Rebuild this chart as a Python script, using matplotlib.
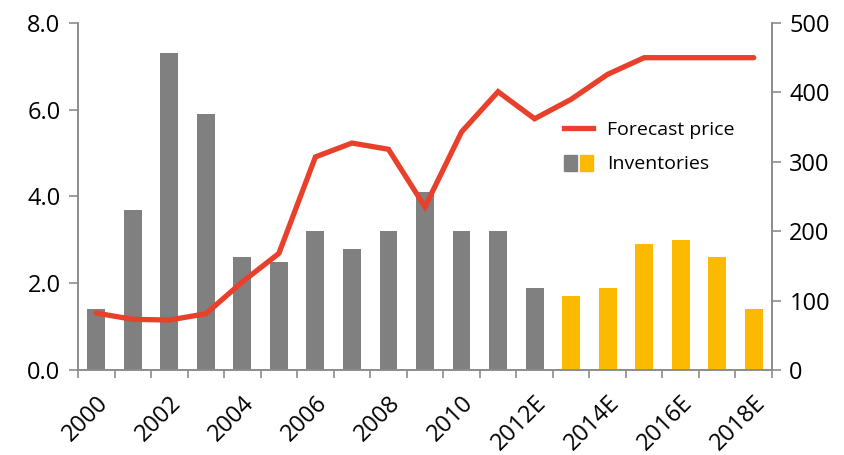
import matplotlib.pyplot as plt
from matplotlib.lines import Line2D
from matplotlib.patches import Patch
from matplotlib.legend_handler import HandlerTuple

plt.rcParams['font.family'] = ['Open Sans', 'DejaVu Sans']

years = ['2000', '2001', '2002', '2003', '2004', '2005', '2006', '2007', '2008', '2009',
         '2010', '2011', '2012E', '2013E', '2014E', '2015E', '2016E', '2017E', '2018E']
inventories = [1.4, 3.7, 7.3, 5.9, 2.6, 2.5, 3.2, 2.8, 3.2, 4.1,
               3.2, 3.2, 1.9, 1.7, 1.9, 2.9, 3.0, 2.6, 1.4]
forecast_price = [82, 73, 72, 81, 127, 168, 307, 327, 318, 235,
                  343, 401, 362, 390, 426, 450, 450, 450, 450]
n_actual = 13  # grey bars up to 2012

grey = '#808080'
orange = '#FBB900'
red = '#E8402A'
axis_col = '#8C8C8C'

fig = plt.figure(figsize=(8.44, 4.55), dpi=100)
ax = fig.add_axes([0.0924, 0.1868, 0.8223, 0.7627])
ax2 = ax.twinx()

x = list(range(len(years)))
colors = [grey if i < n_actual else orange for i in x]
ax.bar(x, inventories, width=0.49, color=colors, zorder=2)
ax2.plot(x, forecast_price, color=red, lw=3.8, solid_capstyle='round', solid_joinstyle='miter', zorder=3)

ax.set_xlim(-0.5, len(years) - 0.5)
ax.set_ylim(0, 8)
ax2.set_ylim(0, 500)
ax.set_yticks([0, 2, 4, 6, 8])
ax.set_yticklabels(['%.1f' % v for v in [0, 2, 4, 6, 8]])
ax2.set_yticks([0, 100, 200, 300, 400, 500])

# labelled ticks at every other bar, tick marks at category boundaries
ax.set_xticks(x[::2])
ax.set_xticklabels(years[::2], rotation=45, ha='right', rotation_mode='anchor')
ax.set_xticks([i - 0.5 for i in range(len(years) + 1)], minor=True)
ax.tick_params(axis='x', which='major', length=0, pad=15, labelsize=17)
ax.tick_params(axis='x', which='minor', length=6, width=1.2, color=axis_col)
ax.tick_params(axis='y', length=6.5, width=1.2, color=axis_col, labelsize=17, pad=6)
ax2.tick_params(axis='y', length=6.5, width=1.2, color=axis_col, labelsize=17, pad=6)

for a in (ax, ax2):
    a.spines['top'].set_visible(False)
    for s in ('left', 'right', 'bottom'):
        a.spines[s].set_color(axis_col)
        a.spines[s].set_linewidth(1.2)

handles = [Line2D([], [], color=red, lw=3.8),
           (Patch(color=grey), Patch(color=orange))]
ax2.legend(handles, ['Forecast price', 'Inventories'],
           handler_map={tuple: HandlerTuple(ndivide=None, pad=0.2)},
           loc='upper left', bbox_to_anchor=(0.675, 0.77), frameon=False,
           fontsize=14, handlelength=1.5, handleheight=0.9, labelspacing=0.8,
           handletextpad=0.7)

fig.savefig('out.png', dpi=100)
